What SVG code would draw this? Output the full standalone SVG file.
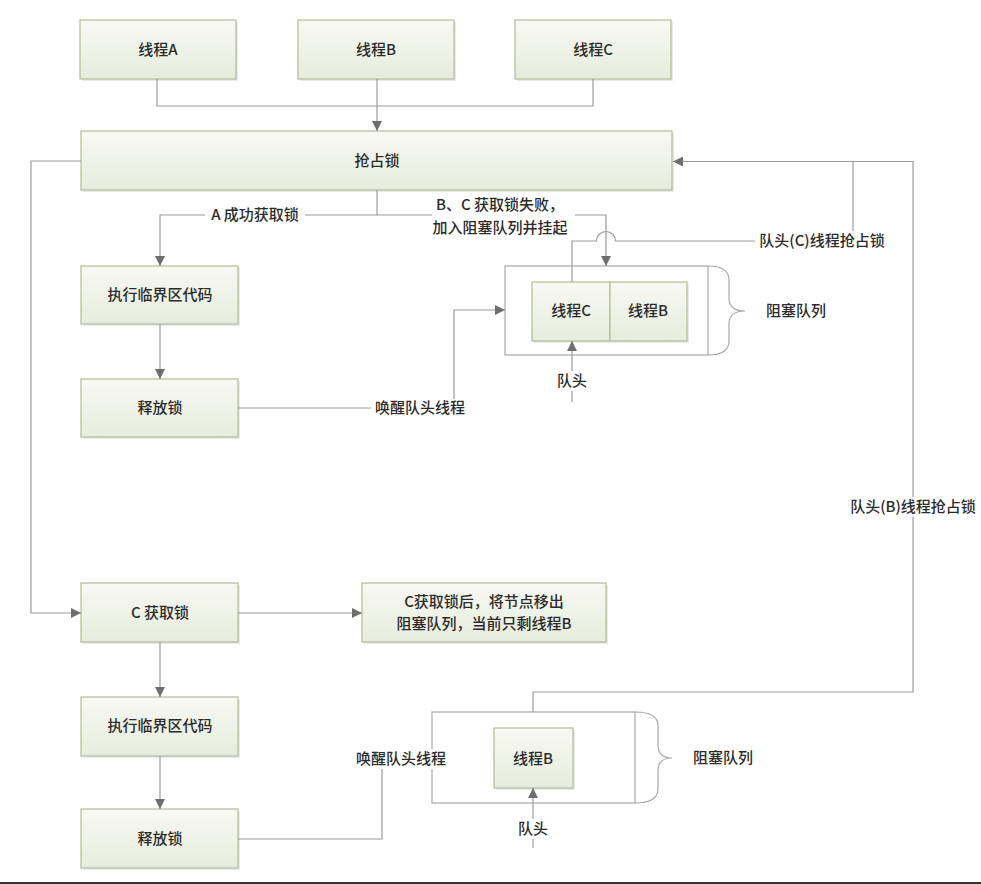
<svg xmlns="http://www.w3.org/2000/svg" width="981" height="884" viewBox="0 0 981 884">
<style>
.box{fill:url(#g);stroke:#b3bd96;stroke-width:1.2}
.sh{fill:#e9e9e9}
.t{font-family:"Noto Sans CJK SC","Microsoft YaHei",sans-serif;font-size:15px;font-weight:500;fill:#2b2b2b;text-anchor:middle}
.ln{fill:none;stroke:#9c9c9c;stroke-width:1.2}
.q{fill:none;stroke:#a8a8a8;stroke-width:1.2}
.bg{fill:#fff}
</style>
<defs>
<linearGradient id="g" x1="0" y1="0" x2="0" y2="1">
<stop offset="0" stop-color="#f8f9f3"/>
<stop offset="1" stop-color="#e7ecdd"/>
</linearGradient>
<marker id="a" markerUnits="userSpaceOnUse" markerWidth="12" markerHeight="10" refX="10" refY="5" orient="auto">
<path d="M0,0 L10,5 L0,10 Z" fill="#6e6e6e"/>
</marker>
</defs>
<rect width="981" height="884" fill="#fff"/>

<g id="threadA"><rect class="sh" x="82" y="22" width="156" height="59"/><rect class="box" x="80" y="20" width="156" height="59"/><text class="t" x="158" y="55">线程A</text></g>
<g id="threadB"><rect class="sh" x="300" y="22" width="156" height="59"/><rect class="box" x="298" y="20" width="156" height="59"/><text class="t" x="376" y="55">线程B</text></g>
<g id="threadC"><rect class="sh" x="517" y="22" width="156" height="59"/><rect class="box" x="515" y="20" width="156" height="59"/><text class="t" x="593" y="55">线程C</text></g>
<g id="grab"><rect class="sh" x="83" y="133" width="591" height="59"/><rect class="box" x="81" y="131" width="591" height="59"/><text class="t" x="377" y="166">抢占锁</text></g>

<g id="exec1"><rect class="sh" x="83" y="268" width="157" height="58"/><rect class="box" x="81" y="266" width="157" height="58"/><text class="t" x="160" y="300">执行临界区代码</text></g>
<g id="release1"><rect class="sh" x="83" y="381" width="157" height="58"/><rect class="box" x="81" y="379" width="157" height="58"/><text class="t" x="160" y="413">释放锁</text></g>

<g id="queue1">
<rect class="q" x="505" y="266" width="203" height="89"/>
<path class="q" d="M708,266 Q729,266 729,280 L729,298 Q729,311 745,311 Q729,311 729,324 L729,341 Q729,355 708,355"/>
<rect class="sh" x="534" y="284" width="155" height="59"/>
<rect class="box" x="532" y="282" width="78" height="59"/>
<rect class="box" x="610" y="282" width="77" height="59"/>
<text class="t" x="571" y="316">线程C</text>
<text class="t" x="648" y="316">线程B</text>
<text class="t" x="796" y="316">阻塞队列</text>
</g>

<g id="cget"><rect class="sh" x="83" y="585" width="157" height="59"/><rect class="box" x="81" y="583" width="157" height="59"/><text class="t" x="160" y="618">C 获取锁</text></g>
<g id="note"><rect class="sh" x="364" y="585" width="244" height="59"/><rect class="box" x="362" y="583" width="244" height="59"/><text class="t" x="484" y="607">C获取锁后，将节点移出</text><text class="t" x="484" y="629">阻塞队列，当前只剩线程B</text></g>
<g id="exec2"><rect class="sh" x="83" y="699" width="157" height="59"/><rect class="box" x="81" y="697" width="157" height="59"/><text class="t" x="160" y="731">执行临界区代码</text></g>
<g id="release2"><rect class="sh" x="83" y="811" width="157" height="59"/><rect class="box" x="81" y="809" width="157" height="59"/><text class="t" x="160" y="844">释放锁</text></g>

<g id="queue2">
<rect class="q" x="432" y="712" width="203" height="91"/>
<path class="q" d="M635,712 Q658,712 658,726 L658,745 Q658,758 672,758 Q658,758 658,771 L658,789 Q658,803 635,803"/>
<rect class="sh" x="496" y="730" width="79" height="60"/>
<rect class="box" x="494" y="728" width="79" height="60"/>
<text class="t" x="533" y="764">线程B</text>
<text class="t" x="723" y="763">阻塞队列</text>
</g>

<g id="connectors">
<path class="ln" d="M157,79 V106 H593 V79"/>
<path class="ln" d="M377,79 V131" marker-end="url(#a)"/>
<path class="ln" d="M81,161 H31 V613 H81" marker-end="url(#a)"/>
<path class="ln" d="M377,190 V215 H160 V266" marker-end="url(#a)"/>
<path class="ln" d="M377,215 H606 V266" marker-end="url(#a)"/>
<path class="ln" d="M160,324 V379" marker-end="url(#a)"/>
<path class="ln" d="M238,408 H454 V310 H505" marker-end="url(#a)"/>
<path class="ln" d="M572,282 V241 H596.5 A9.5,9.5 0 0 1 615.5,241 H853 V161.5 H673" marker-end="url(#a)"/>
<path class="ln" d="M572,402 V341" marker-end="url(#a)"/>
<path class="ln" d="M238,613 H362" marker-end="url(#a)"/>
<path class="ln" d="M160,642 V697" marker-end="url(#a)"/>
<path class="ln" d="M160,756 V809" marker-end="url(#a)"/>
<path class="ln" d="M238,839 H382 V759 H432"/>
<path class="ln" d="M533,712 V692 H913 V161.5 H853"/>
<path class="ln" d="M533,848 V788" marker-end="url(#a)"/>
</g>

<g id="labels">
<rect class="bg" x="205" y="206" width="100" height="19"/><text class="t" x="255" y="220">A 成功获取锁</text>
<rect class="bg" x="432" y="195" width="143" height="43"/><text class="t" x="500" y="210">B、C 获取锁失败，</text><text class="t" x="500" y="233">加入阻塞队列并挂起</text>
<rect class="bg" x="755" y="231" width="134" height="19"/><text class="t" x="822" y="246">队头(C)线程抢占锁</text>
<rect class="bg" x="371" y="399" width="97" height="19"/><text class="t" x="420" y="413">唤醒队头线程</text>
<rect class="bg" x="555" y="371" width="34" height="20"/><text class="t" x="572" y="386">队头</text>
<rect class="bg" x="846" y="497" width="134" height="20"/><text class="t" x="913" y="512">队头(B)线程抢占锁</text>
<rect class="bg" x="352" y="749" width="98" height="20"/><text class="t" x="401" y="764">唤醒队头线程</text>
<rect class="bg" x="516" y="819" width="34" height="20"/><text class="t" x="533" y="834">队头</text>
</g>
<rect x="0" y="882" width="981" height="2" fill="#333"/>
</svg>
